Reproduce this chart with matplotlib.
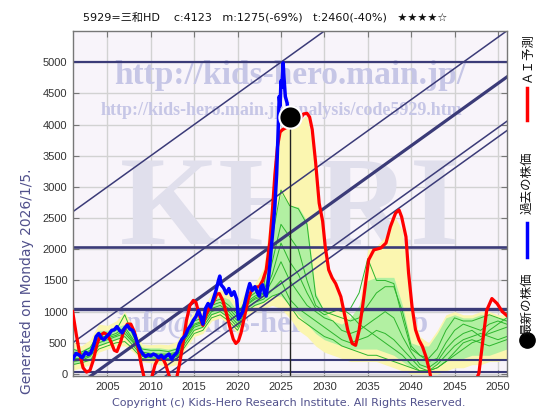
import matplotlib
matplotlib.use("Agg")
import matplotlib.pyplot as plt
from matplotlib.lines import Line2D
import numpy as np

# ---------------- data ----------------
title_text = "5929=三和HD    c:4123   m:1275(-69%)   t:2460(-40%)   ★★★★☆"

blue_years = [2001.0, 2001.4, 2001.8, 2002.1, 2002.5, 2002.8, 2003.1, 2003.4, 2003.7, 2004.0,
              2004.3, 2004.6, 2004.9, 2005.2, 2005.5, 2005.8, 2006.1, 2006.4, 2006.7, 2007.0,
              2007.3, 2007.6, 2007.9, 2008.2, 2008.5, 2008.8, 2009.1, 2009.4, 2009.7, 2010.0,
              2010.3, 2010.6, 2010.9, 2011.2, 2011.5, 2011.8, 2012.1, 2012.4, 2012.7, 2013.0,
              2013.3, 2013.6, 2014.0, 2014.3, 2014.6, 2014.9, 2015.2, 2015.5, 2015.8, 2016.0,
              2016.3, 2016.6, 2016.9, 2017.2, 2017.5, 2017.8, 2017.95, 2018.1, 2018.4, 2018.7,
              2019.0, 2019.3, 2019.6, 2019.9, 2020.1, 2020.3, 2020.6, 2020.9, 2021.2, 2021.4,
              2021.7, 2022.0, 2022.3, 2022.5, 2022.7, 2022.9, 2023.1, 2023.3, 2023.5, 2023.7,
              2023.9, 2024.1, 2024.3, 2024.5, 2024.65, 2024.8, 2024.9, 2025.0, 2025.1, 2025.25,
              2025.35, 2025.5, 2025.7, 2025.85, 2026.0]
blue_vals = [240, 330, 300, 260, 350, 310, 340, 450, 600, 650,
             580, 550, 600, 640, 700, 710, 760, 700, 660, 740,
             780, 720, 700, 610, 480, 380, 320, 280, 310, 290,
             320, 300, 260, 300, 250, 290, 320, 240, 300, 340,
             480, 560, 620, 720, 780, 860, 920, 1020, 900, 800,
             1050, 1130, 1070, 1200, 1330, 1500, 1570, 1430, 1380, 1290,
             1370, 1260, 1320, 1200, 880, 920, 1000, 1180, 1350, 1450,
             1340, 1400, 1300, 1250, 1400, 1430, 1300, 1250, 1450, 1720,
             2050, 2350, 2700, 3200, 3800, 4450, 4300, 4700, 4600, 4990,
             4750, 4450, 4350, 4200, 4123]

red_years = [2001.0, 2001.4, 2001.8, 2002.2, 2002.6, 2003.0, 2003.4, 2003.8, 2004.2, 2004.6,
             2005.0, 2005.4, 2005.8, 2006.1, 2006.5, 2006.9, 2007.3, 2007.7, 2008.1, 2008.5,
             2008.9, 2009.3, 2009.7, 2010.1, 2010.5, 2010.9, 2011.3, 2011.7, 2012.1, 2012.5,
             2012.9, 2013.3, 2013.7, 2014.1, 2014.5, 2014.9, 2015.2, 2015.5, 2015.8, 2016.0,
             2016.4, 2016.8, 2017.2, 2017.6, 2017.9, 2018.3, 2018.7, 2019.1, 2019.5, 2019.8,
             2020.1, 2020.4, 2020.8, 2021.2, 2021.6, 2022.0, 2022.5, 2022.9, 2023.3, 2023.7,
             2024.0, 2024.3, 2024.6, 2024.9, 2025.2, 2025.6, 2026.0, 2026.6, 2027.1, 2027.6,
             2028.0, 2028.3, 2028.6, 2029.0, 2029.4, 2029.8, 2030.1, 2030.5, 2030.9, 2031.3,
             2031.9, 2032.3, 2032.7, 2033.2, 2033.6, 2034.0, 2034.4, 2034.8, 2035.1, 2035.7,
             2036.5, 2037.1, 2037.6, 2038.2, 2038.6, 2038.9, 2039.4, 2039.7, 2040.1, 2040.5,
             2040.9, 2041.3, 2041.7, 2042.1, 2042.6, 2043.5, 2044.5, 2045.5, 2046.5, 2047.3,
             2047.8, 2048.4, 2048.7, 2049.3, 2049.9, 2050.5, 2051.0]
red_vals = [1000, 650, 330, 100, 30, 60, 230, 480, 620, 660,
            630, 520, 380, 360, 500, 700, 800, 800, 680, 450,
            150, -100, -180, -60, 150, 260, 270, 160, -20, -150,
            -120, 150, 480, 850, 1100, 1180, 1150, 1000, 850, 780,
            960, 1080, 1150, 1280, 1290, 1180, 980, 760, 560, 490,
            530, 660, 920, 1190, 1340, 1390, 1400, 1500, 1670, 2100,
            2600, 3200, 3650, 3880, 3920, 3950, 3966, 3990, 4070, 4170,
            4180, 4120, 3920, 3380, 2740, 2450, 2040, 1670, 1540, 1450,
            1240, 970, 700, 490, 460, 700, 1080, 1510, 1830, 1990,
            2020, 2100, 2360, 2580, 2630, 2520, 2200, 1620, 1080, 710,
            545, 440, 280, 60, -300, -600, -700, -650, -450, -150,
            10, 700, 1020, 1210, 1130, 1000, 940]

band_years = list(range(2001, 2052))
yellow_hi = [520, 450, 550, 800, 780, 850, 1000, 750, 480, 470, 480, 470, 520, 800, 1000, 1050, 1300,
             1350, 1300, 1100, 1350, 1450, 1700, 2800, 3950, 3960, 4050, 4150, 3400, 1900, 1500, 1100,
             900, 1100, 2000, 2050, 2200, 2550, 2300, 1100, 600, 500, 700, 950, 1000, 950, 950, 1000,
             1000, 950, 950]
green_hi = [420, 380, 450, 700, 700, 750, 800, 650, 430, 420, 420, 400, 430, 700, 900, 950, 1200,
            1250, 1200, 1000, 1250, 1350, 1450, 2300, 2900, 2700, 2680, 2450, 1300, 1000, 850, 800,
            900, 1100, 1500, 1550, 1550, 1550, 1100, 500, 450, 450, 650, 900, 950, 900, 900, 950,
            950, 900, 900]
green_lo = [150, 200, 250, 450, 500, 550, 600, 450, 280, 250, 230, 220, 250, 500, 700, 750, 950,
            1000, 900, 750, 1050, 1100, 1150, 1250, 1250, 1100, 950, 800, 650, 550, 500, 450,
            400, 400, 400, 400, 350, 300, 200, 100, 100, 100, 150, 200, 250, 250, 300, 300,
            300, 350, 400]
yellow_lo = [60, 100, 150, 350, 400, 450, 450, 350, 200, 180, 150, 120, 150, 400, 600, 650, 850,
             900, 800, 650, 950, 1000, 1050, 1100, 1050, 900, 700, 600, 450, 350, 300, 250,
             200, 200, 200, 200, 150, 100, 50, 0, 0, 0, 0, 50, 100, 100, 150, 150,
             200, 200, 250]

ens_lines = [
    [400, 350, 420, 650, 650, 700, 950, 600, 400, 380, 380, 360, 400, 650, 850, 900, 1150, 1200, 1100, 950,
     1200, 1300, 1400, 2200, 2950, 2700, 2650, 2400, 1250, 1000, 1050, 1000, 1050, 1300, 1850, 1500, 1500, 1450,
     900, 400, 300, 250, 400, 700, 900, 850, 850, 900, 950, 900, 850],
    [300, 300, 380, 600, 600, 650, 750, 550, 350, 330, 320, 320, 350, 600, 800, 850, 1100, 1150, 1050, 900,
     1150, 1250, 1300, 1800, 2400, 2200, 2000, 1500, 1100, 1000, 950, 900, 850, 900, 1100, 1300, 1400, 1400,
     1000, 450, 300, 200, 250, 500, 700, 800, 750, 700, 800, 850, 800],
    [250, 250, 300, 500, 550, 600, 650, 500, 300, 300, 280, 280, 300, 550, 750, 800, 1000, 1050, 950, 800,
     1100, 1200, 1250, 1500, 1800, 1500, 1300, 1100, 1000, 900, 850, 700, 650, 700, 800, 900, 1000, 900,
     600, 350, 150, 100, 200, 400, 550, 650, 700, 600, 650, 700, 750],
    [200, 220, 280, 450, 500, 550, 600, 450, 280, 260, 250, 250, 280, 500, 700, 750, 950, 1000, 900, 750,
     1050, 1150, 1200, 1350, 1500, 1200, 1050, 950, 850, 750, 650, 550, 500, 550, 600, 700, 650, 550,
     400, 250, 100, 50, 150, 300, 450, 550, 600, 650, 600, 550, 600],
    [350, 330, 350, 550, 580, 620, 700, 520, 320, 310, 300, 300, 330, 580, 780, 830, 1050, 1100, 1000, 850,
     1120, 1220, 1280, 1600, 2100, 1800, 1600, 1300, 1050, 950, 1000, 1050, 950, 800, 700, 600, 500, 400,
     300, 150, 50, 50, 100, 200, 350, 500, 550, 500, 450, 500, 550],
    [150, 180, 220, 400, 450, 500, 520, 400, 250, 230, 220, 220, 250, 450, 650, 700, 900, 950, 850, 700,
     1000, 1100, 1150, 1250, 1300, 1100, 900, 800, 700, 600, 550, 450, 400, 350, 300, 300, 250, 200,
     150, 100, 50, 50, 100, 200, 300, 400, 500, 550, 700, 800, 900],
]

# trend lines: value = slope * (year - zero_year)
trend_slope = 100
trend_zero_years = [1975.0, 1996.0, 2003.4, 2010.5, 2012.0]
trend_widths = [1.1, 1.1, 2.3, 1.1, 1.1]

h_levels = [5000, 2030, 1035, 225, 25]
h_widths = [1.6, 1.9, 2.4, 1.5, 1.5]

now_year, now_val = 2026.0, 4123

x_ticks = list(range(2005, 2051, 5))
y_ticks = list(range(0, 5001, 500))

# ---------------- figure ----------------
fig = plt.figure(figsize=(5.6, 4.2), dpi=100)
ax = fig.add_axes([73 / 560, 1 - 376 / 420, (507 - 73) / 560, (376 - 31) / 420])
ax.set_facecolor("#f8f4fa")
ax.set_xlim(2001.04, 2051.04)
ax.set_ylim(-32, 5500)

ax.set_xticks(x_ticks)
ax.set_yticks(y_ticks)
ax.grid(True, color="#d2d2d2", lw=1.0, zorder=0.5)
ax.set_axisbelow(True)
ax.tick_params(direction="in", length=4, width=0.8, color="#777777",
               top=True, right=True, labelsize=8, labelcolor="#333333", pad=4)
for lab in ax.get_xticklabels() + ax.get_yticklabels():
    lab.set_fontfamily("Liberation Sans")
for sp in ax.spines.values():
    sp.set_color("#777777")
    sp.set_linewidth(1.0)
    sp.set_linestyle((0, (1, 1)))

# watermarks
wm = "#c6c6e6"
ax.text(0.50, 0.47, "KHRI", transform=ax.transAxes, ha="center", va="center",
        fontsize=92, fontfamily="Liberation Serif", fontweight="bold",
        color="#e0dfec", zorder=0.6)
ax.text(0.50, 0.872, "http://kids-hero.main.jp/", transform=ax.transAxes, ha="center", va="center",
        fontsize=24, fontfamily="Liberation Serif", fontweight="bold", color=wm, zorder=0.7)
ax.text(0.48, 0.771, "http://kids-hero.main.jp/analysis/code5929.htm", transform=ax.transAxes,
        ha="center", va="center", fontsize=13, fontfamily="Liberation Serif", fontweight="bold",
        color=wm, zorder=0.7)
ax.text(0.46, 0.15, "info@kids-hero.main.jp", transform=ax.transAxes, ha="center", va="center",
        fontsize=22, fontfamily="Liberation Serif", fontweight="bold", color=wm, zorder=0.7)

# ensemble bands
ax.fill_between(band_years, yellow_lo, yellow_hi, color="#fbf6b0", lw=0, zorder=1.5)
ax.fill_between(band_years, green_lo, green_hi, color="#b2f0a2", lw=0, zorder=1.6)
for ln in ens_lines:
    ax.plot(band_years, ln, color="#2db52d", lw=0.7, zorder=1.8)

# trend lines
xs = np.array([2001.04, 2051.04])
for z, w in zip(trend_zero_years, trend_widths):
    ax.plot(xs, trend_slope * (xs - z), color="#3b3b78", lw=w, zorder=2)
for lv, w in zip(h_levels, h_widths):
    ax.axhline(lv, color="#3b3b78", lw=w, zorder=2)

# current marker line
ax.plot([now_year, now_year], [-32, now_val], color="#222222", lw=1.0, zorder=2.5)

ax.plot(red_years, red_vals, color="#ff0000", lw=2.3, zorder=3, solid_joinstyle="round")
ax.plot(blue_years, blue_vals, color="#0000ff", lw=2.5, zorder=4)
ax.plot([now_year], [now_val], "o", ms=16, mfc="black", mec="white", mew=1.5, zorder=5)

# texts
fig.text(265 / 560, 1 - 18 / 420, title_text, ha="center", va="center", fontsize=8,
         fontfamily=["DejaVu Sans", "Noto Sans CJK JP"], color="#111111")
fig.text(27 / 560, 1 - 281 / 420, "Generated on Monday 2026/1/5.", rotation=90,
         ha="center", va="center", fontsize=10, color="#50508c", fontfamily="DejaVu Sans")
fig.text(289 / 560, 1 - 403 / 420, "Copyright (c) Kids-Hero Research Institute. All Rights Reserved.",
         ha="center", va="center", fontsize=8, color="#50508c", fontfamily="DejaVu Sans")

lx = 527 / 560
jp = ["Noto Sans CJK JP", "DejaVu Sans"]
fig.text(lx, 1 - 58 / 420, "ＡＩ予測", rotation=90, ha="center", va="center", fontsize=9,
         fontfamily=jp, color="#111111")
fig.add_artist(Line2D([lx, lx], [1 - 88 / 420, 1 - 120 / 420], color="#ff0000", lw=2.5))
fig.text(lx, 1 - 183 / 420, "過去の株価", rotation=90, ha="center", va="center", fontsize=9,
         fontfamily=jp, color="#111111")
fig.add_artist(Line2D([lx, lx], [1 - 223 / 420, 1 - 257 / 420], color="#0000ff", lw=2.5))
fig.text(lx, 1 - 304 / 420, "最新の株価", rotation=90, ha="center", va="center", fontsize=9,
         fontfamily=jp, color="#111111")
fig.add_artist(Line2D([lx], [1 - 340 / 420], marker="o", ms=11, mfc="black", mec="black"))

fig.savefig("out.png", dpi=100)
